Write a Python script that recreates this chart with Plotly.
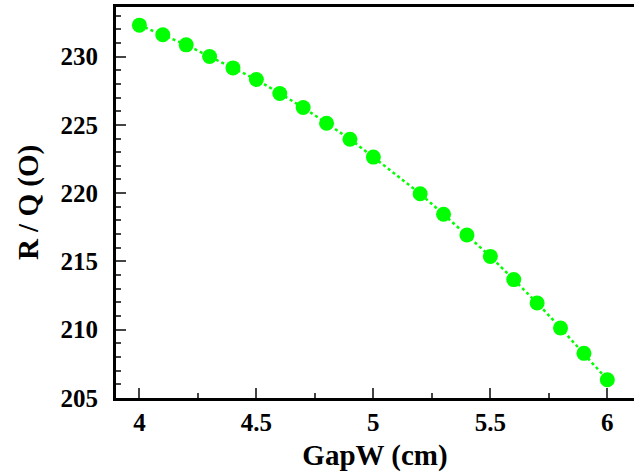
import plotly.graph_objects as go

gap_w = [4.0, 4.1, 4.2, 4.3, 4.4, 4.5, 4.6, 4.7, 4.8, 4.9, 5.0,
         5.2, 5.3, 5.4, 5.5, 5.6, 5.7, 5.8, 5.9, 6.0]
r_over_q = [232.3, 231.6, 230.86, 230.0, 229.17, 228.32, 227.3, 226.27, 225.12, 223.95, 222.64,
            219.96, 218.45, 216.94, 215.37, 213.67, 211.96, 210.13, 208.27, 206.34]

x_ticks = [4, 4.5, 5, 5.5, 6]
x_tick_text = ["<b>4</b>", "<b>4.5</b>", "<b>5</b>", "<b>5.5</b>", "<b>6</b>"]
y_ticks = [205, 210, 215, 220, 225, 230]
y_tick_text = ["<b>205</b>", "<b>210</b>", "<b>215</b>", "<b>220</b>", "<b>225</b>", "<b>230</b>"]

FONT = "Liberation Serif"

fig = go.Figure()
fig.add_trace(go.Scatter(
    x=gap_w, y=r_over_q, mode="lines+markers",
    line=dict(color="#00ff00", width=2.5, dash="dot"),
    marker=dict(color="#00ff00", size=15),
    showlegend=False,
))

fig.update_layout(
    width=634, height=476,
    margin=dict(l=116, r=0, t=7, b=78),
    paper_bgcolor="white", plot_bgcolor="white",
    font=dict(family=FONT, color="black"),
    xaxis=dict(
        range=[3.9, 6.114], showgrid=False, zeroline=False,
        showline=True, linecolor="black", linewidth=3, mirror=True,
        ticks="inside", ticklen=10, tickwidth=1.5, tickcolor="#444",
        tickvals=x_ticks, ticktext=x_tick_text,
        tickfont=dict(family=FONT, size=25),
        minor=dict(ticks="inside", ticklen=5, tickwidth=1.5, tickcolor="#444", dtick=0.25, tick0=4, showgrid=False),
        ticklabelstandoff=0,
        title=dict(text="<b>GapW (cm)</b>", font=dict(family=FONT, size=29), standoff=10),
    ),
    yaxis=dict(
        range=[205, 233.63], showgrid=False, zeroline=False,
        showline=True, linecolor="black", linewidth=3,
        ticks="inside", ticklen=10, tickwidth=1.5, tickcolor="#444",
        tickvals=y_ticks, ticktext=y_tick_text,
        tickfont=dict(family=FONT, size=25),
        minor=dict(ticks="inside", ticklen=5, tickwidth=1.5, tickcolor="#444", dtick=1, tick0=205, showgrid=False),
        ticklabelstandoff=10,
        title=dict(text="<b>R / Q (O)</b>", font=dict(family=FONT, size=29), standoff=14),
    ),
)

fig.write_html("out.html")
